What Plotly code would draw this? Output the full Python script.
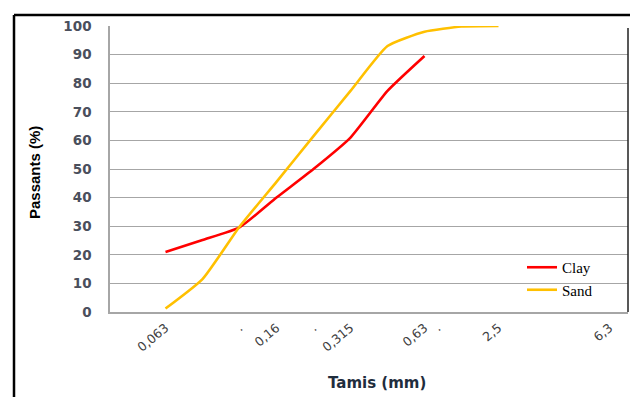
import plotly.graph_objects as go

# category slots on the sieve axis (index positions)
tick_pos = [1, 3, 4, 5, 6, 8, 8.35, 10, 13]
tick_text = ["0,063", ".", "0,16", ".", "0,315", "0,63", ".", "2,5", "6,3"]

clay_x = [1, 2, 3, 4, 5, 6, 7, 8]
clay_y = [21, 25.2, 29.6, 40, 50, 61, 77.3, 89.5]

sand_x = [1, 2, 3, 4, 5, 6, 7, 8, 9, 10]
sand_y = [1.2, 11.5, 29.8, 45.5, 61.5, 77.3, 93, 98, 99.8, 100]

y_ticks = list(range(0, 101, 10))

# page body has an 8px offset; figure is sized to fit the visible window
OFF = 8
L, T, R, B = 110, 26, 628, 312          # plot area in window pixels
W, H = 638 - OFF, 397 - OFF
PW, PH = R - L, B - T


def px(x):
    return (x - L) / PW


def py(y):
    return (B - y) / PH


fig = go.Figure()
fig.add_trace(go.Scatter(x=clay_x, y=clay_y, mode="lines", name="Clay",
                         line=dict(color="#FF0000", width=2.6, shape="spline", smoothing=0.5)))
fig.add_trace(go.Scatter(x=sand_x, y=sand_y, mode="lines", name="Sand",
                         line=dict(color="#FFC000", width=2.6, shape="spline", smoothing=0.5)))

frame = dict(color="#000000", width=2.5)
fig.update_layout(
    width=W, height=H,
    margin=dict(l=L - OFF, r=638 - R, t=T - OFF, b=H - (B - OFF)),
    paper_bgcolor="white", plot_bgcolor="white",
    showlegend=True,
    legend=dict(x=px(522), y=py(251), xanchor="left", yanchor="top",
                bgcolor="rgba(0,0,0,0)", borderwidth=0,
                font=dict(family="Liberation Serif", size=15, color="#000000"),
                itemwidth=30, tracegroupgap=0),
    xaxis=dict(range=[-0.5, 13.5], tickmode="array", tickvals=tick_pos, ticktext=tick_text,
               tickangle=-40, showgrid=False, zeroline=False,
               showline=True, linecolor="#A6A6A6", linewidth=1.5,
               ticks="", ticklabelstandoff=2,
               tickfont=dict(family="DejaVu Sans", size=12.5, color="#404040")),
    yaxis=dict(range=[0, 100], tickmode="array", tickvals=y_ticks,
               showgrid=True, gridcolor="#A6A6A6", gridwidth=1, zeroline=False,
               showline=True, linecolor="#A6A6A6", linewidth=1.5,
               ticks="", ticklabelstandoff=14,
               tickfont=dict(family="DejaVu Sans", size=13.5, color="#4A4F5C", weight="bold")),
    annotations=[
        dict(text="<b>Passants (%)</b>", xref="paper", yref="paper",
             x=px(34), y=py(173), textangle=-90, showarrow=False,
             xanchor="center", yanchor="middle",
             font=dict(family="Liberation Sans Narrow, Liberation Sans", size=15, color="#000000")),
        dict(text="<b>Tamis (mm)</b>", xref="paper", yref="paper",
             x=px(377), y=py(383), showarrow=False,
             xanchor="center", yanchor="middle",
             font=dict(family="DejaVu Sans", size=15, color="#1F2D3D")),
    ],
    shapes=[
        # white patch behind legend (hides gridlines)
        dict(type="rect", xref="paper", yref="paper",
             x0=px(557), x1=1.0, y0=py(300), y1=py(240),
             fillcolor="white", line=dict(width=0), layer="between"),
        # dark right edge of plot area
        dict(type="line", xref="paper", yref="paper", x0=1.0, x1=1.0, y0=0, y1=py(28),
             line=dict(color="#202020", width=1.5)),
        # outer frame
        dict(type="line", xref="paper", yref="paper", x0=px(14), x1=px(14),
             y0=py(400), y1=py(15), line=frame, layer="above"),
        dict(type="line", xref="paper", yref="paper", x0=px(14), x1=px(632),
             y0=py(15), y1=py(15), line=frame, layer="above"),
        dict(type="line", xref="paper", yref="paper", x0=px(632), x1=px(632),
             y0=py(400), y1=py(15), line=frame, layer="above"),
    ],
)

fig.write_html("out.html")
